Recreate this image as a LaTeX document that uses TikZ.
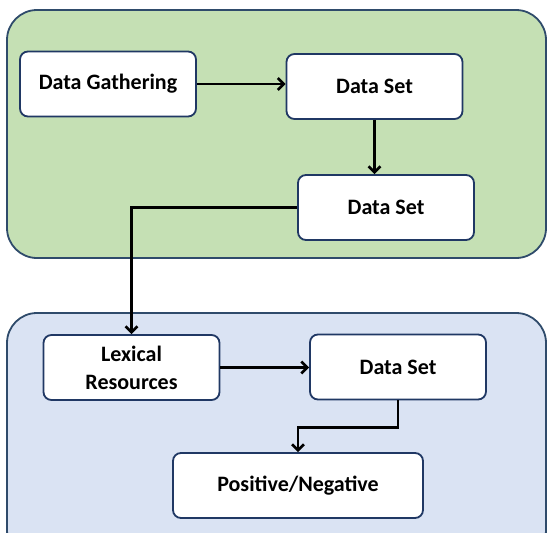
\documentclass[tikz,border=0pt]{standalone}
\usepackage{fontspec}
\setmainfont{Carlito}
\usetikzlibrary{arrows.meta, positioning}
\definecolor{stageGreen}{HTML}{C5E0B4}
\definecolor{stageBlue}{HTML}{DAE3F3}
\definecolor{edgeNavy}{HTML}{203864}
\definecolor{frameNavy}{HTML}{2F4B6B}
\tikzset{
    stage/.style={draw=frameNavy, line width=1.8pt, rounded corners=30pt},
    block/.style={draw=edgeNavy, fill=white, line width=1.8pt, rounded corners=8pt,
        minimum width=176pt, minimum height=65pt, align=center,
        font=\fontsize{22}{28}\selectfont\bfseries},
    link/.style={line width=2.6pt, -{Straight Barb[length=6pt,width=12pt]}}
}
\begin{document}
\begin{tikzpicture}[x=1pt, y=-1pt]
        \clip (0,0) rectangle (547,533);
        \fill[white] (0,0) rectangle (547,533);
        % Stage backgrounds
        \draw[stage, fill=stageGreen] (7,10) rectangle (546,258);
        \draw[stage, fill=stageBlue] (7,313) rectangle (546,560);
        % Boxes
        \node[block] (gather) at (108,84) {Data Gathering};
        \node[block] (set1) at (374.5,86.5) {Data Set};
        \node[block] (set2) at (386,207.5) {Data Set};
        \node[block] (lexical) at (131.5,367.5) {Lexical\\Resources};
        \node[block] (set3) at (398,367) {Data Set};
        \node[block, minimum width=250pt] (polarity) at (298,485.5) {Positive/Negative};
        % Arrows between boxes
        \draw[link] (gather.east) -- (gather.east -| set1.west);
        \draw[link] (set1) -- (set1 |- set2.north);
        \draw[link] (set2.west) -| (lexical.north);
        \draw[link] (lexical.east) -- (lexical.east -| set3.west);
        \draw[link] (set3.south) -- ++(0,27) -| (polarity.north);
    \end{tikzpicture}
\end{document}
